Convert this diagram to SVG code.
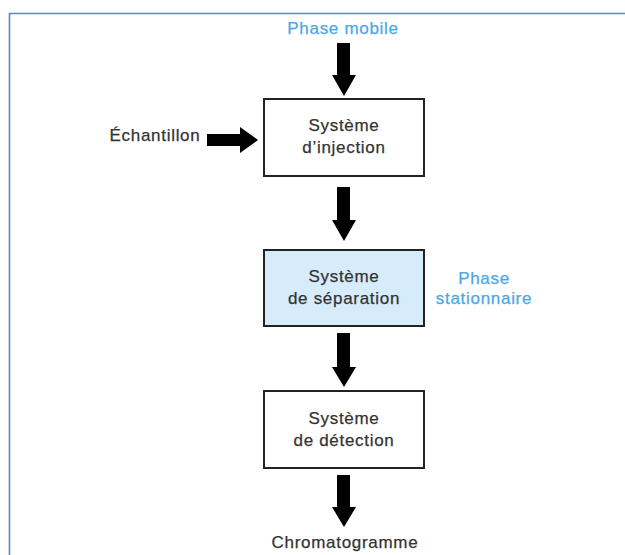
<svg xmlns="http://www.w3.org/2000/svg" width="625" height="555" viewBox="0 0 625 555">
<style>
text{font-family:"Liberation Sans","Roboto",sans-serif;font-size:17px;letter-spacing:0.7px;fill:#333;stroke:#333;stroke-width:0.25;text-anchor:middle}
text.blue{fill:#4aa8e8;stroke:#4aa8e8}
.box{fill:#fff;stroke:#222;stroke-width:2}
.sep{fill:#d6ecfa}
.arr{fill:#000}
</style>
<rect width="625" height="555" fill="#fff"/>
<path d="M9.5 555V13.5H625" fill="none" stroke="#5a86c2" stroke-width="1.6"/>
<g id="connectors">
<path class="arr" d="M337 43h13v32h6l-12 21l-12-21h5z"/>
<path class="arr" d="M337 187h13v33h6l-12 21l-12-21h5z"/>
<path class="arr" d="M337 333h13v34h6l-12 20l-12-20h5z"/>
<path class="arr" d="M337 475h13v32h6l-12 20l-12-20h5z"/>
<path class="arr" d="M207 134h33v-7l18 13l-18 13v-7h-33z"/>
</g>
<g id="phase-mobile"><text class="blue" x="343" y="34">Phase mobile</text></g>
<g id="echantillon"><text x="155" y="141">Échantillon</text></g>
<g id="injection">
<rect class="box" x="264" y="99" width="160" height="77"/>
<text x="344" y="131">Système</text>
<text x="344" y="153">d’injection</text>
</g>
<g id="separation">
<rect class="box sep" x="264" y="250" width="160" height="76"/>
<text x="344" y="282">Système</text>
<text x="344" y="304">de séparation</text>
</g>
<g id="phase-stationnaire">
<text class="blue" x="484" y="284">Phase</text>
<text class="blue" x="484" y="304">stationnaire</text>
</g>
<g id="detection">
<rect class="box" x="264" y="391" width="160" height="77"/>
<text x="344" y="424">Système</text>
<text x="344" y="446">de détection</text>
</g>
<g id="chromatogramme"><text x="345" y="548">Chromatogramme</text></g>
</svg>
